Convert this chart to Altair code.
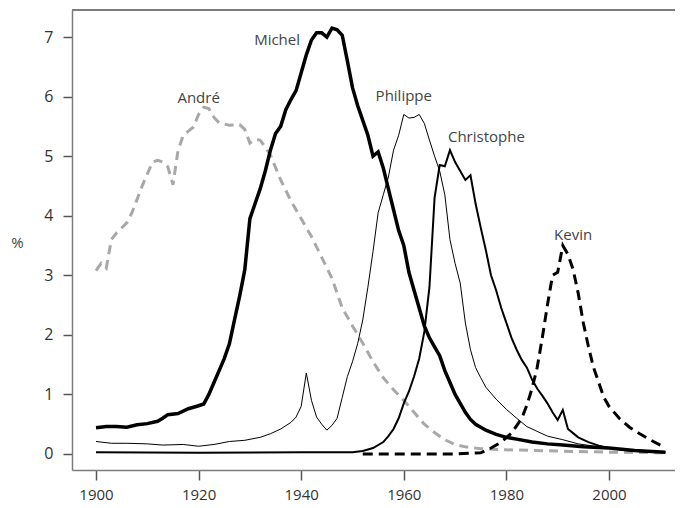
import altair as alt
import pandas as pd

# ---- data (share of births, %) ----
andre_years = [1900, 1901, 1902, 1903, 1904, 1906, 1907, 1909, 1911, 1912, 1913, 1914, 1915, 1916, 1917, 1919,
               1920, 1921, 1922, 1923, 1924, 1926, 1928, 1929, 1930, 1931, 1932, 1933, 1934, 1936, 1938, 1940,
               1942, 1944, 1946, 1948, 1950, 1952, 1954, 1956, 1958, 1960, 1962, 1964, 1966, 1968, 1970, 1972,
               1975, 1980, 1990, 2000, 2011]
andre_vals = [3.08, 3.2, 3.12, 3.6, 3.71, 3.88, 4.05, 4.5, 4.9, 4.93, 4.9, 4.82, 4.52, 5.1, 5.35, 5.49,
              5.7, 5.82, 5.8, 5.65, 5.56, 5.52, 5.53, 5.45, 5.22, 5.28, 5.27, 5.15, 5.02, 4.6, 4.25, 3.95,
              3.65, 3.3, 2.95, 2.45, 2.15, 1.86, 1.55, 1.28, 1.08, 0.9, 0.7, 0.5, 0.36, 0.24, 0.16, 0.12,
              0.09, 0.07, 0.05, 0.03, 0.02]

michel_years = [1900, 1902, 1904, 1906, 1908, 1910, 1912, 1913, 1914, 1916, 1918, 1920, 1921, 1922, 1923, 1924,
                1925, 1926, 1927, 1928, 1929, 1930, 1931, 1932, 1933, 1934, 1935, 1936, 1937, 1938, 1939, 1940,
                1941, 1942, 1943, 1944, 1945, 1946, 1947, 1948, 1949, 1950, 1951, 1952, 1953, 1954, 1955, 1956,
                1957, 1958, 1959, 1960, 1961, 1962, 1963, 1964, 1965, 1966, 1967, 1968, 1969, 1970, 1971, 1972,
                1973, 1974, 1975, 1976, 1978, 1980, 1982, 1985, 1988, 1991, 1995, 2000, 2005, 2011]
michel_vals = [0.44, 0.46, 0.46, 0.45, 0.49, 0.51, 0.55, 0.6, 0.66, 0.68, 0.76, 0.81, 0.84, 1.0, 1.2, 1.4,
               1.6, 1.85, 2.25, 2.65, 3.09, 3.95, 4.2, 4.45, 4.75, 5.1, 5.38, 5.5, 5.78, 5.95, 6.1, 6.4,
               6.7, 6.95, 7.07, 7.07, 7.0, 7.15, 7.12, 7.03, 6.6, 6.15, 5.85, 5.6, 5.35, 5.0, 5.07, 4.8,
               4.45, 4.1, 3.75, 3.5, 3.05, 2.75, 2.45, 2.15, 1.95, 1.8, 1.65, 1.4, 1.2, 1.0, 0.85, 0.7,
               0.58, 0.5, 0.45, 0.4, 0.33, 0.28, 0.25, 0.2, 0.17, 0.15, 0.12, 0.1, 0.06, 0.03]

philippe_years = [1900, 1903, 1906, 1910, 1913, 1917, 1920, 1923, 1926, 1929, 1932, 1934, 1936, 1938, 1939, 1940,
                  1941, 1942, 1943, 1944, 1945, 1946, 1947, 1948, 1949, 1950, 1951, 1952, 1953, 1954, 1955, 1956,
                  1957, 1958, 1959, 1960, 1961, 1962, 1963, 1964, 1965, 1966, 1967, 1968, 1969, 1970, 1971, 1972,
                  1973, 1974, 1975, 1976, 1978, 1980, 1982, 1984, 1986, 1988, 1991, 1994, 1998, 2002, 2006, 2011]
philippe_vals = [0.21, 0.18, 0.18, 0.17, 0.15, 0.16, 0.13, 0.16, 0.21, 0.23, 0.28, 0.34, 0.42, 0.53, 0.62, 0.8,
                 1.36, 0.9, 0.62, 0.5, 0.4, 0.48, 0.6, 0.95, 1.3, 1.55, 1.85, 2.25, 2.8, 3.4, 4.05, 4.35,
                 4.65, 5.1, 5.35, 5.7, 5.64, 5.65, 5.7, 5.55, 5.27, 5.0, 4.75, 4.35, 3.6, 3.2, 2.87, 2.2,
                 1.75, 1.45, 1.28, 1.12, 0.92, 0.75, 0.6, 0.46, 0.38, 0.3, 0.24, 0.17, 0.12, 0.08, 0.05, 0.03]

christophe_years = [1900, 1920, 1940, 1950, 1952, 1954, 1956, 1957, 1958, 1959, 1960, 1961, 1962, 1963, 1964, 1965,
                    1966, 1967, 1968, 1969, 1970, 1971, 1972, 1973, 1974, 1975, 1976, 1977, 1978, 1979, 1980, 1981,
                    1982, 1983, 1984, 1985, 1986, 1987, 1988, 1989, 1990, 1991, 1992, 1993, 1994, 1996, 1998, 2000,
                    2005, 2011]
christophe_vals = [0.03, 0.02, 0.03, 0.03, 0.05, 0.1, 0.2, 0.3, 0.42, 0.6, 0.85, 1.05, 1.3, 1.6, 2.05, 2.8,
                   4.3, 4.85, 4.83, 5.1, 4.9, 4.75, 4.6, 4.68, 4.2, 3.8, 3.42, 3.0, 2.75, 2.45, 2.2, 1.95,
                   1.75, 1.58, 1.45, 1.25, 1.1, 0.98, 0.85, 0.7, 0.57, 0.74, 0.42, 0.35, 0.28, 0.2, 0.14, 0.1,
                   0.05, 0.03]

kevin_years = [1952, 1960, 1970, 1975, 1977, 1979, 1981, 1983, 1984, 1985, 1986, 1987, 1988, 1989, 1990, 1991,
               1992, 1993, 1994, 1995, 1996, 1997, 1998, 1999, 2000, 2002, 2004, 2006, 2008, 2010, 2011]
kevin_vals = [0.0, 0.0, 0.0, 0.02, 0.1, 0.2, 0.35, 0.6, 0.82, 1.1, 1.45, 1.95, 2.5, 3.0, 3.05, 3.5,
              3.35, 3.1, 2.7, 2.2, 1.8, 1.45, 1.2, 0.95, 0.8, 0.6, 0.45, 0.34, 0.24, 0.15, 0.12]

label_names = ["André", "Michel", "Philippe", "Christophe", "Kevin"]
label_years = [1920.0, 1935.3, 1960.0, 1976.1, 1993.0]
label_vals = [5.89, 6.87, 5.93, 5.24, 3.59]

x_ticks = [1900, 1920, 1940, 1960, 1980, 2000]
y_ticks = [0, 1, 2, 3, 4, 5, 6, 7]

series = [
    ("André", andre_years, andre_vals),
    ("Philippe", philippe_years, philippe_vals),
    ("Christophe", christophe_years, christophe_vals),
    ("Michel", michel_years, michel_vals),
    ("Kevin", kevin_years, kevin_vals),
]
rows = []
for name, ys, vs in series:
    for yr, v in zip(ys, vs):
        rows.append({"name": name, "year": yr, "pct": v})
df = pd.DataFrame(rows)
labels = pd.DataFrame({"name": label_names, "year": label_years, "pct": label_vals})

W, H = 603, 460
FONT = "Open Sans"
AX = "#7d7d7d"

xs = alt.Scale(domain=[1895.32, 2012.87], nice=False, zero=False)
ys_ = alt.Scale(domain=[-0.2686, 7.4534], nice=False, zero=False)

x_enc = alt.X("year:Q", scale=xs, axis=alt.Axis(
    values=x_ticks, format="d", title=None, grid=False, tickSize=10, tickWidth=1.5,
    tickColor="#555", domainColor=AX, domainWidth=1.5, labelFont=FONT, labelFontSize=15,
    labelColor="#333", labelPadding=7))
y_enc = alt.Y("pct:Q", scale=ys_, axis=alt.Axis(
    values=y_ticks, format="d", title="%", grid=False, tickSize=9, tickWidth=1.5,
    tickColor="#555", domainColor=AX, domainWidth=1.5, labelFont=FONT, labelFontSize=16,
    labelColor="#333", labelPadding=10, titleAngle=0, titleX=-55, titleY=232,
    titleAlign="center", titleBaseline="middle", titleFont=FONT, titleFontSize=15,
    titleFontWeight="normal", titleColor="#444"))

base = alt.Chart(df)

def line(name, **kw):
    return base.transform_filter(alt.datum.name == name).mark_line(**kw).encode(x=x_enc, y=y_enc)

layers = [
    line("André", color="#a8a8a8", strokeWidth=3, strokeDash=[9, 6]),
    line("Philippe", color="black", strokeWidth=1),
    line("Christophe", color="black", strokeWidth=2),
    line("Michel", color="black", strokeWidth=3.5),
    line("Kevin", color="black", strokeWidth=3, strokeDash=[10, 6]),
]

text = alt.Chart(labels).mark_text(font=FONT, fontSize=15, color="#444", align="center",
                                   baseline="alphabetic").encode(x=x_enc, y=y_enc, text="name:N")

top = alt.Chart(labels).mark_rule(color=AX, strokeWidth=1.5).encode(
    x=alt.value(0), x2=alt.value(W), y=alt.value(0))

chart = alt.layer(*layers, text, top).properties(
    width=W, height=H,
    autosize=alt.AutoSizeParams(type="none"),
    padding={"left": 64, "top": 2, "right": 0, "bottom": 34},
).configure_view(stroke=None)

chart.save("out.html", embed_options={"renderer": "svg", "actions": False})
